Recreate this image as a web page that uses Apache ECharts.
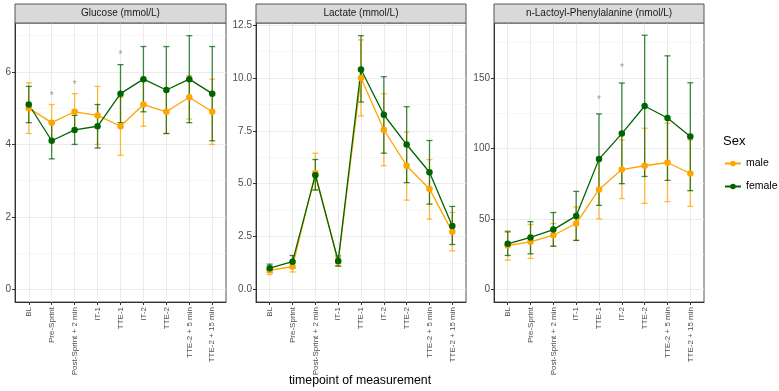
<!DOCTYPE html>
<html>
<head>
<meta charset="utf-8">
<script src="https://cdn.jsdelivr.net/npm/echarts@6/dist/echarts.min.js"></script>
<style>
  html, body { margin: 0; padding: 0; background: #fff; }
  #chart { width: 779px; height: 391px; }
</style>
</head>
<body>
<div id="chart"></div>
<script>
  // timepoints (x categories)
  const timepoints = ['BL', 'Pre-Sprint', 'Post-Sprint + 2 min', 'IT-1', 'TTE-1',
    'IT-2', 'TTE-2', 'TTE-2 + 5 min', 'TTE-2 + 15 min']
  const panelTitles = ['Glucose (mmol/L)', 'Lactate (mmol/L)', 'n-Lactoyl-Phenylalanine (nmol/L)']

  // Glucose
  const gluMale = [5.0, 4.6, 4.9, 4.8, 4.5, 5.1, 4.9, 5.3, 4.9]
  const gluMaleLo = [4.3, 4.1, 4.4, 4.0, 3.7, 4.5, 4.3, 4.7, 4.0]
  const gluMaleHi = [5.7, 5.1, 5.4, 5.6, 5.3, 5.8, 5.5, 5.9, 5.8]
  const gluFemale = [5.1, 4.1, 4.4, 4.5, 5.4, 5.8, 5.5, 5.8, 5.4]
  const gluFemaleLo = [4.6, 3.6, 4.0, 3.9, 4.6, 4.9, 4.3, 4.6, 4.1]
  const gluFemaleHi = [5.6, 4.6, 4.8, 5.1, 6.2, 6.7, 6.7, 7.0, 6.7]
  const gluStars = [[1, 5.32], [2, 5.64], [4, 6.47]]

  // Lactate
  const lacMale = [0.9, 1.08, 5.5, 1.3, 10.0, 7.55, 5.85, 4.75, 2.72]
  const lacMaleLo = [0.7, 0.82, 4.7, 1.1, 8.2, 5.85, 4.22, 3.32, 1.82]
  const lacMaleHi = [1.1, 1.35, 6.44, 1.5, 11.8, 9.25, 7.44, 6.14, 3.64]
  const lacFemale = [1.0, 1.31, 5.4, 1.34, 10.4, 8.26, 6.85, 5.54, 3.0]
  const lacFemaleLo = [0.8, 1.0, 4.7, 1.1, 8.86, 6.44, 5.05, 4.03, 2.12]
  const lacFemaleHi = [1.19, 1.6, 6.14, 1.58, 12.0, 10.06, 8.64, 7.04, 3.92]
  const lacStars = []

  // n-Lactoyl-Phenylalanine
  const lpMale = [31.1, 33.7, 38.4, 46.7, 70.9, 85.0, 87.7, 90.0, 82.2]
  const lpMaleLo = [20.7, 21.9, 30.6, 34.7, 50.0, 64.4, 61.0, 62.2, 58.9]
  const lpMaleHi = [41.5, 46.0, 46.7, 58.5, 91.7, 106.0, 114.3, 117.9, 106.0]
  const lpFemale = [32.3, 36.8, 42.4, 52.1, 92.4, 110.5, 130.1, 121.6, 108.4]
  const lpFemaleLo = [24.0, 25.2, 30.6, 34.7, 59.6, 75.0, 80.1, 77.3, 70.0]
  const lpFemaleHi = [40.8, 48.0, 54.5, 69.5, 124.5, 146.4, 180.3, 165.7, 146.6]
  const lpStars = [[4, 133.9], [5, 156.8]]

  // y scales: major ticks, minor grid lines, range
  const yMajor = [[0, 2, 4, 6], [0, 2.5, 5, 7.5, 10, 12.5], [0, 50, 100, 150]]
  const yMinor = [[1, 3, 5, 7], [1.25, 3.75, 6.25, 8.75, 11.25], [25, 75, 125, 175]]
  const yRange = [[-0.35, 7.35], [-0.6, 12.6], [-9, 189]]

  const MALE = '#FFA500'
  const FEMALE = '#006400'
  const FONT = 'Liberation Sans, Arial, sans-serif'
  const idx = timepoints.map((_, i) => i)

  const panels = [
    { male: gluMale, maleLo: gluMaleLo, maleHi: gluMaleHi, female: gluFemale, femaleLo: gluFemaleLo, femaleHi: gluFemaleHi, stars: gluStars, left: 15, width: 211, dec: 0 },
    { male: lacMale, maleLo: lacMaleLo, maleHi: lacMaleHi, female: lacFemale, femaleLo: lacFemaleLo, femaleHi: lacFemaleHi, stars: lacStars, left: 256, width: 210, dec: 1 },
    { male: lpMale, maleLo: lpMaleLo, maleHi: lpMaleHi, female: lpFemale, femaleLo: lpFemaleLo, femaleHi: lpFemaleHi, stars: lpStars, left: 494, width: 210, dec: 0 }
  ]
  const TOP = 23, HEIGHT = 279

  const grid = [], xAxis = [], yAxis = [], series = [], graphic = []

  function errorBar(lo, hi, color, gi) {
    return {
      type: 'custom',
      xAxisIndex: gi,
      yAxisIndex: gi * 2,
      data: idx.map(i => [i, lo[i], hi[i]]),
      z: 3,
      silent: true,
      renderItem(params, api) {
        const top = api.coord([api.value(0), api.value(2)])
        const bot = api.coord([api.value(0), api.value(1)])
        const w = 3
        const style = { stroke: color, lineWidth: 1.3, opacity: 0.75 }
        return {
          type: 'group',
          children: [
            { type: 'line', shape: { x1: top[0], y1: top[1], x2: bot[0], y2: bot[1] }, style },
            { type: 'line', shape: { x1: top[0] - w, y1: top[1], x2: top[0] + w, y2: top[1] }, style },
            { type: 'line', shape: { x1: bot[0] - w, y1: bot[1], x2: bot[0] + w, y2: bot[1] }, style }
          ]
        }
      }
    }
  }

  function lineSeries(name, vals, color, gi) {
    return {
      type: 'line',
      name,
      xAxisIndex: gi,
      yAxisIndex: gi * 2,
      data: idx.map(i => [i, vals[i]]),
      symbol: 'circle',
      symbolSize: 6.5,
      showSymbol: true,
      color,
      lineStyle: { color, width: 1.3 },
      itemStyle: { color },
      z: 4
    }
  }

  panels.forEach((p, gi) => {
    grid.push({
      left: p.left, top: TOP, width: p.width, height: HEIGHT,
      show: true, borderColor: '#555', borderWidth: 1, backgroundColor: '#fff'
    })
    xAxis.push({
      type: 'value', gridIndex: gi, min: -0.6, max: 8.6,
      axisLine: { show: true, onZero: false, lineStyle: { color: '#333', width: 1 } },
      axisTick: { show: true, length: 3, customValues: idx, lineStyle: { color: '#333' } },
      axisLabel: {
        customValues: idx, rotate: 90, fontSize: 8, color: '#4d4d4d', margin: 5,
        fontFamily: FONT,
        formatter: v => timepoints[Math.round(v)]
      },
      splitLine: { show: true, lineStyle: { color: '#ebebeb', width: 1 } }
    })
    yAxis.push({
      type: 'value', gridIndex: gi, min: yRange[gi][0], max: yRange[gi][1],
      axisLine: { show: true, onZero: false, lineStyle: { color: '#333', width: 1 } },
      axisTick: { show: true, length: 3, customValues: yMajor[gi], lineStyle: { color: '#333' } },
      axisLabel: {
        customValues: yMajor[gi], fontSize: 10, color: '#4d4d4d', margin: 4,
        fontFamily: FONT,
        formatter: v => v.toFixed(p.dec)
      },
      splitLine: { show: true, lineStyle: { color: '#ebebeb', width: 1 } }
    })
    // minor grid lines
    yAxis.push({
      type: 'value', gridIndex: gi, min: yRange[gi][0], max: yRange[gi][1],
      position: 'left',
      axisLine: { show: false },
      axisTick: { show: false, customValues: yMinor[gi] },
      axisLabel: { show: false, customValues: yMinor[gi] },
      splitLine: { show: true, lineStyle: { color: '#f3f3f3', width: 0.7 } }
    })

    series.push(errorBar(p.maleLo, p.maleHi, MALE, gi))
    series.push(errorBar(p.femaleLo, p.femaleHi, FEMALE, gi))
    series.push(lineSeries('male', p.male, MALE, gi))
    series.push(lineSeries('female', p.female, FEMALE, gi))
    series.push({
      type: 'scatter',
      xAxisIndex: gi,
      yAxisIndex: gi * 2,
      data: p.stars,
      symbolSize: 0,
      silent: true,
      label: {
        show: true, position: 'inside', formatter: '*', color: '#7f7f7f', fontSize: 10,
        fontFamily: FONT
      }
    })

    // strip header
    graphic.push({
      type: 'rect',
      shape: { x: p.left, y: 4, width: p.width, height: TOP - 4 },
      style: { fill: '#d9d9d9', stroke: '#555', lineWidth: 1 },
      z: 10
    })
    graphic.push({
      type: 'text',
      x: p.left + p.width / 2, y: 4 + (TOP - 4) / 2,
      style: {
        text: panelTitles[gi], fill: '#1a1a1a', fontSize: 10,
        fontFamily: FONT, align: 'center', verticalAlign: 'middle'
      },
      z: 11
    })
  })

  graphic.push({
    type: 'text', x: 723, y: 135,
    style: { text: 'Sex', fontSize: 13, fill: '#000', fontFamily: FONT }
  })

  const chart = echarts.init(document.getElementById('chart'))
  chart.setOption({
    animation: false,
    backgroundColor: '#fff',
    grid, xAxis, yAxis, series, graphic,
    title: {
      text: 'timepoint of measurement',
      left: 360, top: 375, textAlign: 'center', padding: 0,
      textStyle: { fontSize: 12.3, fontWeight: 'normal', color: '#000', fontFamily: FONT }
    },
    legend: {
      data: ['male', 'female'],
      orient: 'vertical',
      left: 724, top: 158, padding: 0,
      itemWidth: 16, itemHeight: 7, itemGap: 12,
      textStyle: { fontSize: 10.5, color: '#000', fontFamily: FONT },
      selectedMode: false
    }
  })
</script>
</body>
</html>
